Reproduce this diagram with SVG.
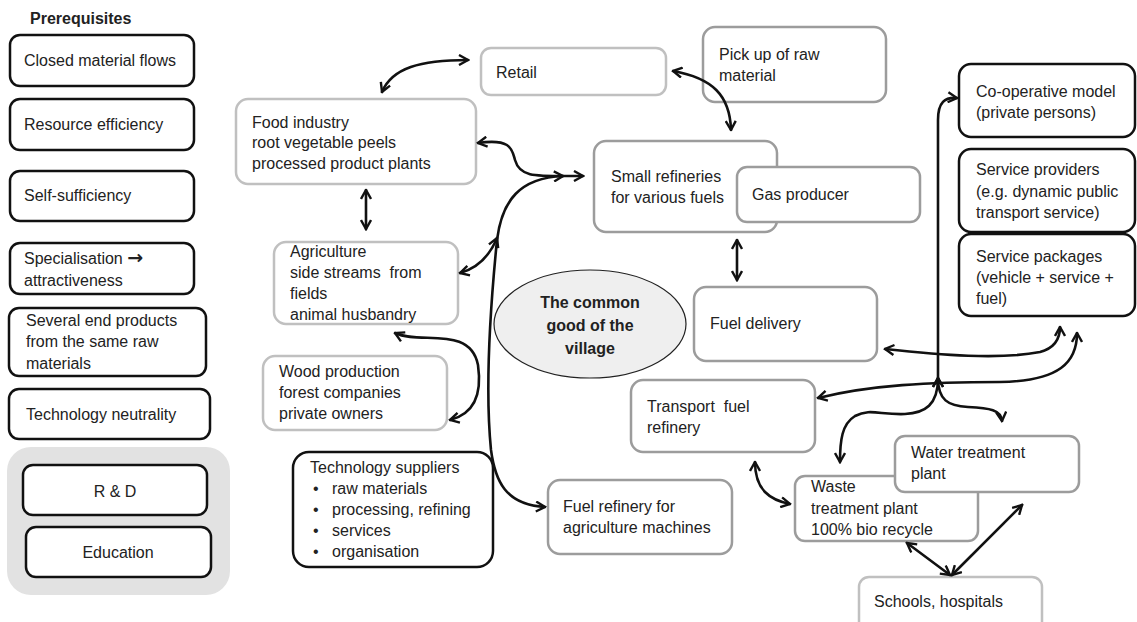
<svg xmlns="http://www.w3.org/2000/svg" width="1137" height="622" viewBox="0 0 1137 622">
<defs>
<style>
text{font-family:"Liberation Sans",Arial,sans-serif;font-size:16px;fill:#222}
.b{font-weight:bold}
.arr{font-family:"DejaVu Sans",sans-serif;font-size:19px;font-weight:bold}
.blk{fill:#fff;stroke:#111;stroke-width:2.5}
.lt{fill:#fff;stroke:#c0c0c0;stroke-width:2.5}
.md{fill:#fff;stroke:#9c9c9c;stroke-width:2.5}
.m{fill:none;stroke:#111;stroke-width:2.6;stroke-linecap:round;marker-start:url(#a);marker-end:url(#a)}
.e{fill:none;stroke:#111;stroke-width:2.6;stroke-linecap:round;marker-end:url(#a)}
</style>
<marker id="a" viewBox="0 0 12 12" refX="10.5" refY="6" markerWidth="12" markerHeight="12" markerUnits="userSpaceOnUse" orient="auto-start-reverse">
<path d="M1.5,1 L10.5,6 L1.5,11" fill="none" stroke="#111" stroke-width="2.4" stroke-linejoin="miter"/>
</marker>
</defs>
<rect width="1137" height="622" fill="#fff"/>

<g id="prereq">
<text x="30" y="24" class="b">Prerequisites</text>
<g id="n-closed"><rect x="10" y="35" width="184" height="51" rx="10" class="blk"/><text x="24" y="66">Closed material flows</text></g>
<g id="n-resource"><rect x="10" y="99" width="184" height="51" rx="10" class="blk"/><text x="24" y="130">Resource efficiency</text></g>
<g id="n-self"><rect x="10" y="171" width="184" height="50" rx="10" class="blk"/><text x="24" y="201">Self-sufficiency</text></g>
<g id="n-special"><rect x="10" y="243" width="184" height="51" rx="10" class="blk"/><text x="24" y="264">Specialisation <tspan class="arr">→</tspan></text><text x="24" y="286">attractiveness</text></g>
<g id="n-several"><rect x="9" y="308" width="197" height="68" rx="10" class="blk"/><text x="26" y="326">Several end products</text><text x="26" y="347">from the same raw</text><text x="26" y="369">materials</text></g>
<g id="n-techneutral"><rect x="9" y="389" width="201" height="50" rx="10" class="blk"/><text x="26" y="420">Technology neutrality</text></g>
<rect x="7" y="447" width="223" height="148" rx="24" fill="#e2e2e2"/>
<g id="n-rd"><rect x="23" y="465" width="184" height="50" rx="10" class="blk"/><text x="115" y="497" text-anchor="middle">R &amp; D</text></g>
<g id="n-edu"><rect x="26" y="527" width="185" height="50" rx="10" class="blk"/><text x="118" y="558" text-anchor="middle">Education</text></g>
</g>

<g id="n-retail"><rect x="481" y="48" width="185" height="47" rx="10" class="lt"/><text x="496" y="78">Retail</text></g>
<g id="n-pickup"><rect x="703" y="27" width="183" height="75" rx="12" class="md"/><text x="719" y="60">Pick up of raw</text><text x="719" y="81">material</text></g>
<g id="n-food"><rect x="236" y="99" width="240" height="85" rx="12" class="lt"/><text x="252" y="128">Food industry</text><text x="252" y="148">root vegetable peels</text><text x="252" y="169">processed product plants</text></g>
<g id="n-smallref"><rect x="594" y="141" width="183" height="91" rx="12" class="md"/><text x="611" y="182">Small refineries</text><text x="611" y="203">for various fuels</text></g>
<g id="n-gas"><rect x="737" y="167" width="183" height="55" rx="10" class="md"/><text x="752" y="200">Gas producer</text></g>
<g id="n-coop"><rect x="959" y="64" width="176" height="73" rx="12" class="blk"/><text x="976" y="97">Co-operative model</text><text x="976" y="118">(private persons)</text></g>
<g id="n-servprov"><rect x="959" y="149" width="176" height="83" rx="12" class="blk"/><text x="976" y="175">Service providers</text><text x="976" y="197">(e.g. dynamic public</text><text x="976" y="218">transport service)</text></g>
<g id="n-servpack"><rect x="959" y="234" width="176" height="82" rx="12" class="blk"/><text x="976" y="262">Service packages</text><text x="976" y="283">(vehicle + service +</text><text x="976" y="304">fuel)</text></g>
<g id="n-agri"><rect x="274" y="242" width="184" height="82" rx="12" class="lt"/><text x="290" y="257">Agriculture</text><text x="290" y="278" xml:space="preserve">side streams  from</text><text x="290" y="299">fields</text><text x="290" y="320">animal husbandry</text></g>
<g id="n-wood"><rect x="263" y="356" width="184" height="74" rx="12" class="lt"/><text x="279" y="377">Wood production</text><text x="279" y="398">forest companies</text><text x="279" y="419">private owners</text></g>
<g id="n-techsup"><rect x="293" y="452" width="200" height="115" rx="16" class="blk"/><text x="310" y="473">Technology suppliers</text>
<text x="313" y="494">•</text><text x="332" y="494">raw materials</text>
<text x="313" y="515">•</text><text x="332" y="515">processing, refining</text>
<text x="313" y="536">•</text><text x="332" y="536">services</text>
<text x="313" y="557">•</text><text x="332" y="557">organisation</text></g>
<g id="n-fuelagri"><rect x="548" y="480" width="184" height="74" rx="12" class="md"/><text x="563" y="512">Fuel refinery for</text><text x="563" y="533">agriculture machines</text></g>
<g id="n-common"><ellipse cx="590" cy="324" rx="96" ry="54" fill="#efefef" stroke="#222" stroke-width="1.2"/><text x="590" y="308" class="b" text-anchor="middle">The common</text><text x="590" y="331" class="b" text-anchor="middle">good of the</text><text x="590" y="354" class="b" text-anchor="middle">village</text></g>
<g id="n-fueldel"><rect x="694" y="287" width="183" height="74" rx="12" class="md"/><text x="710" y="329">Fuel delivery</text></g>
<g id="n-transport"><rect x="631" y="380" width="184" height="72" rx="12" class="md"/><text x="647" y="412" xml:space="preserve">Transport  fuel</text><text x="647" y="433">refinery</text></g>
<g id="n-waste"><rect x="795" y="476" width="183" height="65" rx="10" class="md"/><text x="811" y="492">Waste</text><text x="811" y="514">treatment plant</text><text x="811" y="535">100% bio recycle</text></g>
<g id="n-water"><rect x="895" y="436" width="184" height="56" rx="10" class="md"/><text x="911" y="458">Water treatment</text><text x="911" y="479">plant</text></g>
<g id="n-schools"><rect x="859" y="577" width="183" height="62" rx="10" class="lt"/><text x="874" y="607">Schools, hospitals</text></g>

<g id="connectors">
<path class="m" d="M382,92 C392,68 420,60 468,60"/>
<path class="m" d="M366,190 L366,229"/>
<path class="m" d="M478,143 C512,138 512,150 515,160 C520,178 535,176 583,176"/>
<path class="m" d="M460,273 C478,268 490,255 497,238"/>
<path class="m" d="M545,507 C505,505 495,480 491,450 C486,400 488,330 497,240 C502,200 520,178 563,176"/>
<path class="m" d="M395,333 C420,345 470,325 478,365 C483,400 470,415 450,420"/>
<path class="m" d="M673,71 C712,78 730,95 731,130"/>
<path class="m" d="M737,240 L737,280"/>
<path class="e" d="M938,377 L938,120 C938,102 945,97 957,98"/>
<path class="m" d="M938,378 C938,405 925,413 905,414 C880,415 870,408 855,416 C842,424 840,440 840,462"/>
<path class="m" d="M938,378 C938,400 948,406 968,407 C990,408 1001,410 1002,421"/>
<path class="m" d="M885,349 C940,355 1000,360 1040,352 C1055,348 1060,338 1060,327"/>
<path class="m" d="M818,398 C870,385 930,382 1000,382 C1060,381 1077,362 1077,333"/>
<path class="m" d="M755,462 C755,490 770,500 790,504"/>
<path class="m" d="M907,543 L950,575"/>
<path class="m" d="M1022,505 L952,575"/>
</g>
</svg>
